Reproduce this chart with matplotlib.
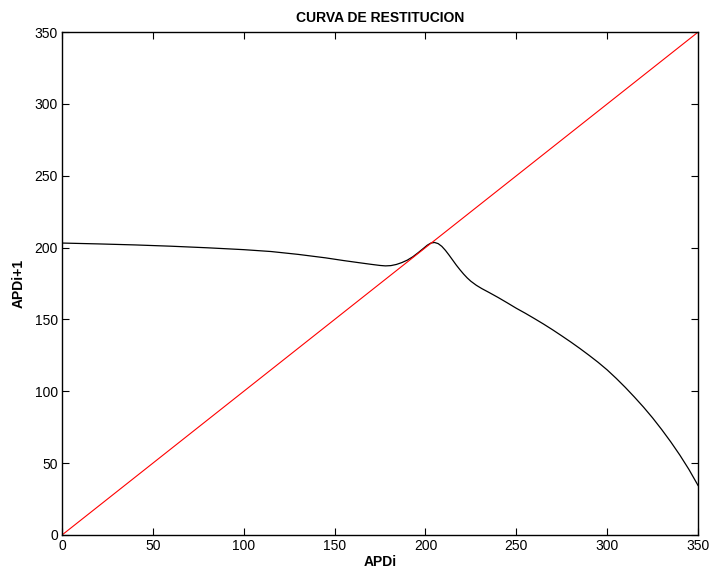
import numpy as np
import matplotlib.pyplot as plt

plt.rcParams['font.family'] = ['Liberation Sans', 'DejaVu Sans']

# restitution curve: APD(i) -> APD(i+1)
apd_i = [0, 20, 40, 60, 80, 100, 115, 130, 145, 155, 163, 170, 175, 178,
         181, 184, 187, 190, 193, 196, 199, 201, 203, 205, 207, 209, 211,
         213, 215, 217, 219, 221, 223, 225, 228, 231, 235, 240, 245, 250,
         255, 260, 265, 270, 275, 280, 285, 290, 295, 300, 305, 310, 315,
         320, 325, 330, 335, 340, 345, 350]
apd_next = [203.2, 202.6, 201.9, 201.0, 199.9, 198.6, 197.3, 195.3, 192.9,
            191.0, 189.6, 188.4, 187.6, 187.3, 187.5, 188.3, 189.6, 191.3,
            193.6, 196.5, 199.6, 201.7, 203.2, 203.6, 202.8, 200.9, 198.1,
            194.8, 191.3, 187.8, 184.6, 181.6, 178.9, 176.6, 173.8, 171.5,
            168.8, 165.3, 161.6, 157.8, 154.3, 150.6, 146.8, 142.8, 138.6,
            134.3, 129.8, 125.1, 120.2, 114.9, 109.0, 102.7, 96.0, 89.0,
            81.5, 73.4, 64.8, 55.6, 45.6, 34.5]

# identity line
ident = [0, 350]

ticks = np.arange(0, 351, 50)

fig = plt.figure(figsize=(7.13, 5.75), dpi=100)
ax = fig.add_axes([0.087, 0.0696, 0.892, 0.8745])

ax.plot(apd_i, apd_next, color="black", lw=0.9)
ax.plot(ident, ident, color="red", lw=0.8)

ax.set_xlim(0, 350)
ax.set_ylim(0, 350)
ax.set_xticks(ticks)
ax.set_yticks(ticks)
ax.tick_params(direction="in", length=5, width=0.8, top=True, right=True,
               labelsize=10, pad=3)
for s in ax.spines.values():
    s.set_linewidth(1.0)

ax.set_title("CURVA DE RESTITUCION", fontsize=10, fontweight="bold", pad=7)
ax.set_xlabel("APDi", fontsize=10, fontweight="bold", labelpad=1)
ax.set_ylabel("APDi+1", fontsize=10, fontweight="bold", labelpad=6)

fig.savefig("out.png", dpi=100)
